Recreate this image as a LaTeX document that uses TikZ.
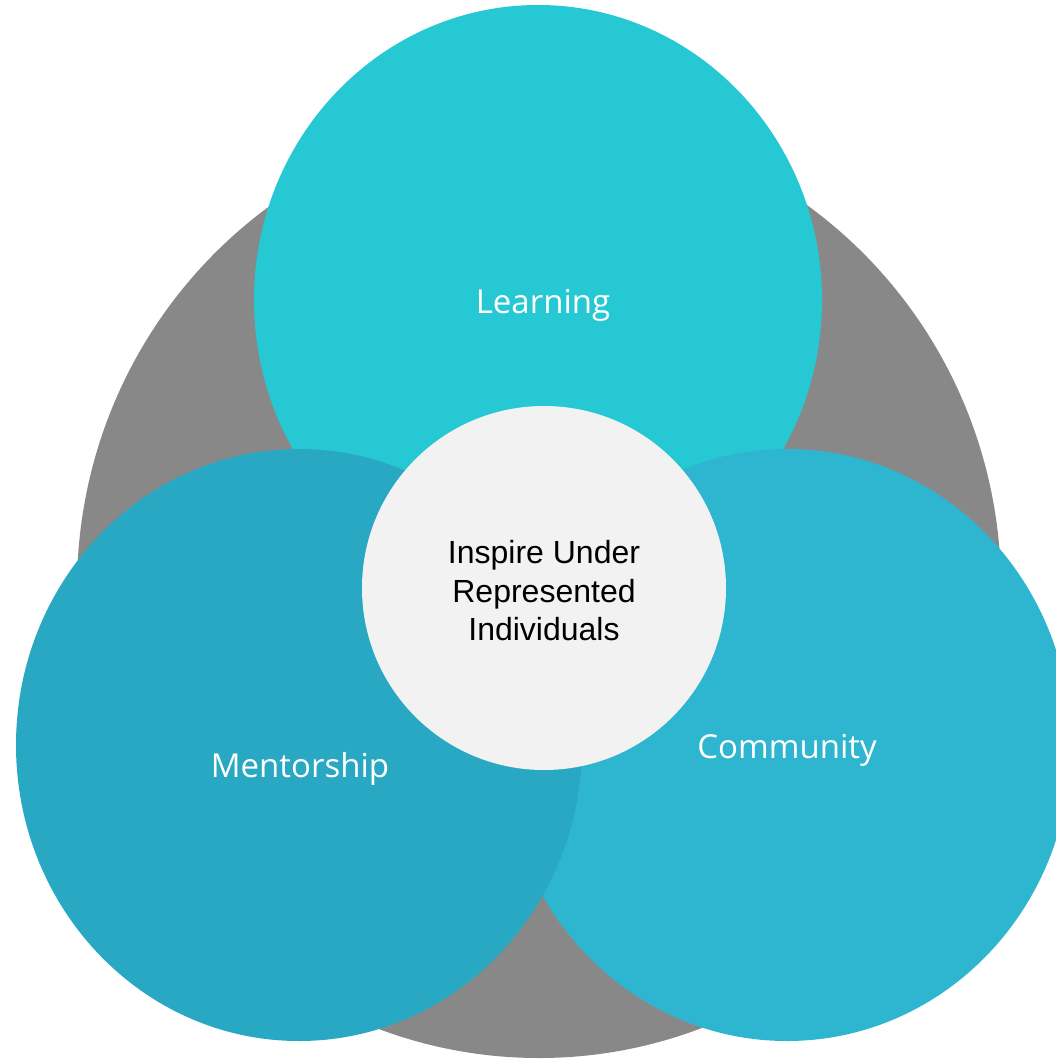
\documentclass[tikz,border=0pt]{standalone}
\usepackage{fontspec}
\setmainfont{Open Sans}
\newfontfamily\arialfont{Liberation Sans}
\definecolor{graybig}{HTML}{888888}
\definecolor{learncol}{HTML}{26C9D3}
\definecolor{mentcol}{HTML}{29A8C4}
\definecolor{commcol}{HTML}{2EB5CF}
\definecolor{centcol}{HTML}{F2F2F2}
\begin{document}
\begin{tikzpicture}[x=1pt,y=-1pt,
  lbl/.style={text=white,font=\fontsize{33}{40}\selectfont},
  ctext/.style={text=black,align=center,font=\arialfont\fontsize{32}{38.5}\selectfont}]
\useasboundingbox (0,0) rectangle (1055,1059);
\fill[graybig] (539,588) ellipse [x radius=462, y radius=470];
\fill[learncol] (538,300) ellipse [x radius=284, y radius=295];
\fill[commcol] (787,745) ellipse [x radius=284, y radius=296];
\fill[mentcol] (299,745) ellipse [x radius=283, y radius=296];
\fill[centcol] (544,588) circle [radius=182];
\node[lbl] (learning) at (543,305) {Learning};
\node[lbl] (mentorship) at (300,769) {Mentorship};
\node[lbl] (community) at (787,750) {Community};
\node[ctext] (center) at (544,591) {Inspire Under\\Represented\\Individuals};
\end{tikzpicture}
\end{document}
